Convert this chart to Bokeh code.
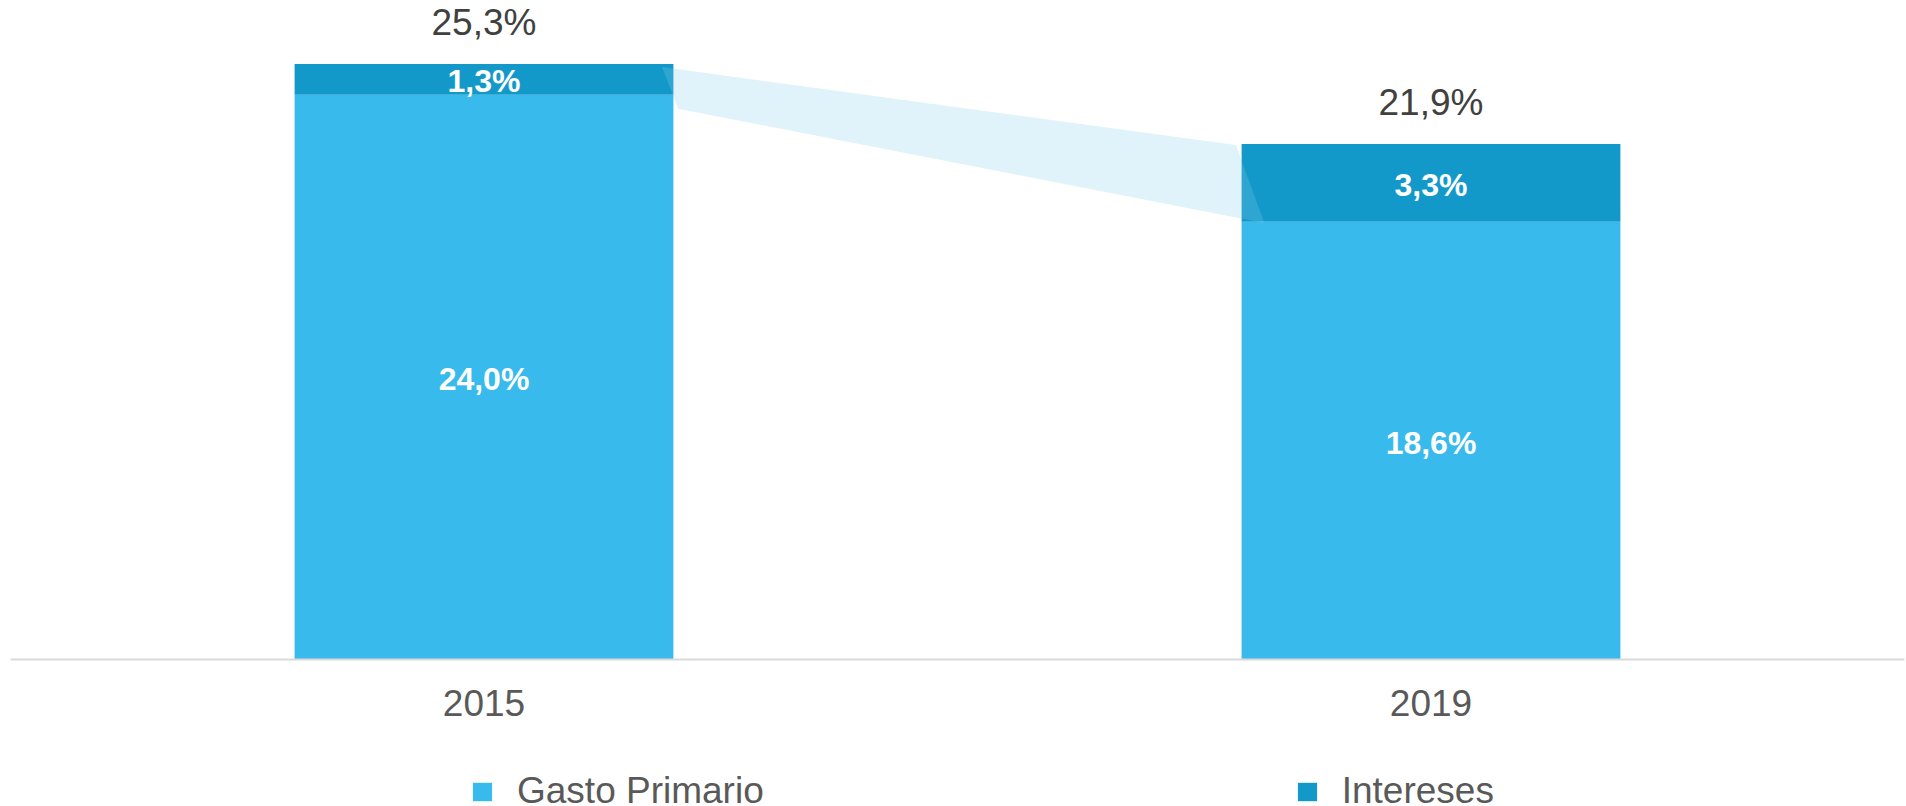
from bokeh.plotting import figure
from bokeh.layouts import column
from bokeh.models import Range1d, FixedTicker, Legend, LegendItem, ColumnDataSource
from bokeh.core.properties import value
from bokeh.embed import file_html
from bokeh.resources import INLINE

# ---- data ----
years = ["2015", "2019"]
gasto_primario = [24.0, 18.6]
intereses = [1.3, 3.3]
totales = [25.3, 21.9]
lbl_primario = ["24,0%", "18,6%"]
lbl_intereses = ["1,3%", "3,3%"]
lbl_totales = ["25,3%", "21,9%"]
series_names = ["Gasto Primario", "Intereses"]

C_PRIM = "#38BAEC"
C_INT = "#1399C9"
FONT = "Liberation Sans"

xs = [i + 0.5 for i in range(len(years))]
bw = 0.4

p = figure(width=1906, height=740, output_backend="svg", toolbar_location=None,
           x_range=Range1d(0, 2), y_range=Range1d(0, 28.0),
           y_axis_location=None, min_border_left=10, min_border_right=2,
           min_border_top=0, min_border_bottom=81)
p.outline_line_color = None
p.grid.visible = False
p.background_fill_color = "white"
p.border_fill_color = "white"

src = ColumnDataSource(dict(x=xs, prim=gasto_primario, inter=intereses,
                            tot=totales, lp=lbl_primario, li=lbl_intereses,
                            lt=lbl_totales,
                            mid_p=[v / 2 for v in gasto_primario],
                            mid_i=[g + i / 2 for g, i in zip(gasto_primario, intereses)]))

r_prim = p.vbar(x="x", width=bw, bottom=0, top="prim", source=src,
                fill_color=C_PRIM, line_color=None)
r_int = p.vbar(x="x", width=bw, bottom="prim", top="tot", source=src,
               fill_color=C_INT, line_color=None)

# connector band between the two bars
x_r0 = xs[0] + bw / 2
x_l1 = xs[1] - bw / 2
p.patch([x_r0 - 0.012, x_l1 - 0.006, x_l1 + 0.024, x_r0 + 0.005],
        [totales[0] - 0.13, totales[1] - 0.04, gasto_primario[1] - 0.05, gasto_primario[0] - 0.6],
        fill_color="#83CBEB", fill_alpha=0.25, line_color=None)

# labels
p.text(x="x", y="mid_p", text="lp", source=src, text_align="center", text_baseline="middle",
       y_offset=2,
       text_font=value(FONT), text_font_style="bold", text_font_size="32px", text_color="white")
p.text(x="x", y="mid_i", text="li", source=src, text_align="center", text_baseline="middle",
       y_offset=2,
       text_font=value(FONT), text_font_style="bold", text_font_size="32px", text_color="white")
p.text(x="x", y="tot", text="lt", source=src, text_align="center", text_baseline="middle",
       y_offset=-42,
       text_font=value(FONT), text_font_size="37px", text_color="#404040")

# x axis
ax = p.xaxis[0]
ax.ticker = FixedTicker(ticks=xs)
ax.major_label_overrides = {x: y for x, y in zip(xs, years)}
ax.major_tick_line_color = None
ax.minor_tick_line_color = None
ax.axis_line_color = "#D9D9D9"
ax.axis_line_width = 2
ax.major_label_standoff = 24
ax.major_label_text_font = FONT
ax.major_label_text_font_size = "37px"
ax.major_label_text_color = "#595959"

# legend strip (its bars lie far outside its visible ranges; only the legend shows)
p2 = figure(width=1906, height=66, output_backend="svg", toolbar_location=None,
            x_range=Range1d(1000, 1001), y_range=Range1d(1000, 1001),
            x_axis_location=None, y_axis_location=None,
            min_border=0)
p2.outline_line_color = None
p2.grid.visible = False
l_prim = p2.vbar(x="x", width=bw, bottom=0, top="prim", source=src,
                 fill_color=C_PRIM, line_color=None)
l_int = p2.vbar(x="x", width=bw, bottom="prim", top="tot", source=src,
                fill_color=C_INT, line_color=None)
legend = Legend(items=[LegendItem(label=series_names[0], renderers=[l_prim], index=0),
                       LegendItem(label=series_names[1], renderers=[l_int], index=0)],
                orientation="horizontal", location=(460, -6),
                glyph_width=24, glyph_height=23, label_standoff=23, spacing=531,
                padding=0, margin=0, border_line_color=None, background_fill_alpha=0,
                label_text_font=FONT, label_text_font_size="37px", label_text_color="#595959")
p2.add_layout(legend, "center")

open("out.html", "w").write(file_html(column(p, p2, spacing=0), INLINE))
